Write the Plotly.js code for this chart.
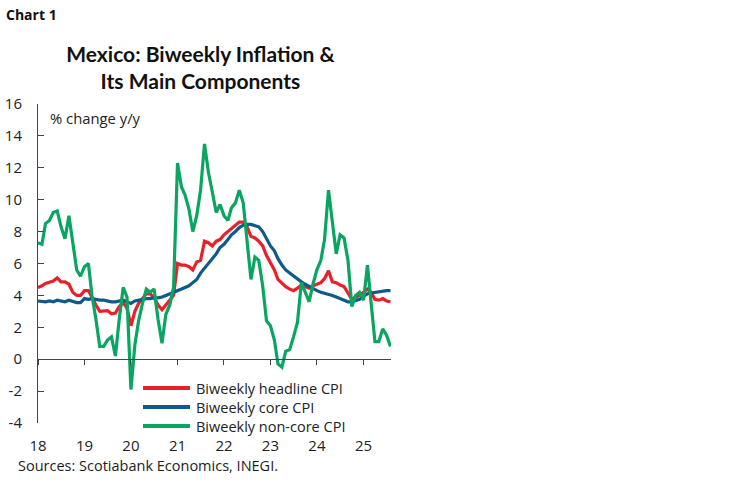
<!DOCTYPE html>
<html>
<head>
<meta charset="utf-8">
<script src="https://cdn.plot.ly/plotly-3.0.1.min.js"></script>
<style>html,body{margin:0;padding:0;background:#fff;}#chart{width:748px;height:483px;}</style>
</head>
<body>
<div id="chart"></div>
<script>
// Monthly readings (label-axis dates), Jan 2018 .. Aug 2025
const dates = [
"2018-01-01","2018-02-01","2018-03-01","2018-04-01","2018-05-01","2018-06-01","2018-07-01","2018-08-01","2018-09-01","2018-10-01","2018-11-01","2018-12-01",
"2019-01-01","2019-02-01","2019-03-01","2019-04-01","2019-05-01","2019-06-01","2019-07-01","2019-08-01","2019-09-01","2019-10-01","2019-11-01","2019-12-01",
"2020-01-01","2020-02-01","2020-03-01","2020-04-01","2020-05-01","2020-06-01","2020-07-01","2020-08-01","2020-09-01","2020-10-01","2020-11-01","2020-12-01",
"2021-01-01","2021-02-01","2021-03-01","2021-04-01","2021-05-01","2021-06-01","2021-07-01","2021-08-01","2021-09-01","2021-10-01","2021-11-01","2021-12-01",
"2022-01-01","2022-02-01","2022-03-01","2022-04-01","2022-05-01","2022-06-01","2022-07-01","2022-08-01","2022-09-01","2022-10-01","2022-11-01","2022-12-01",
"2023-01-01","2023-02-01","2023-03-01","2023-04-01","2023-05-01","2023-06-01","2023-07-01","2023-08-01","2023-09-01","2023-10-01","2023-11-01","2023-12-01",
"2024-01-01","2024-02-01","2024-03-01","2024-04-01","2024-05-01","2024-06-01","2024-07-01","2024-08-01","2024-09-01","2024-10-01","2024-11-01","2024-12-01",
"2025-01-01","2025-02-01","2025-03-01","2025-04-01","2025-05-01","2025-06-01","2025-07-01","2025-08-01"
];

const headline = [
4.5,4.6,4.75,4.85,4.9,5.1,4.85,4.85,4.7,4.2,4.0,4.0,
4.3,4.3,3.85,3.4,3.0,3.0,3.05,2.85,2.9,3.3,3.55,3.2,
2.1,3.0,3.5,3.8,4.1,4.1,3.85,3.4,3.1,3.4,3.7,4.0,
6.0,5.9,5.9,5.8,5.6,6.1,6.2,7.4,7.3,7.1,7.4,7.5,
7.8,8.0,8.15,8.35,8.6,8.6,8.3,7.7,7.6,7.4,7.1,6.5,
6.05,5.6,5.0,4.75,4.55,4.4,4.3,4.45,4.65,4.55,4.45,4.6,
4.7,4.8,5.05,5.55,4.85,4.8,4.65,4.55,4.15,3.75,3.9,4.0,
4.2,4.4,4.2,3.75,3.7,3.8,3.65,3.6
];

const core = [
3.65,3.6,3.6,3.65,3.6,3.7,3.65,3.6,3.7,3.6,3.55,3.55,
3.8,3.75,3.8,3.75,3.7,3.7,3.65,3.6,3.6,3.65,3.7,3.6,
3.5,3.65,3.7,3.75,3.8,3.8,3.85,3.85,3.9,4.0,4.1,4.2,
4.25,4.4,4.5,4.6,4.8,5.0,5.4,5.7,5.95,6.3,6.6,7.0,
7.2,7.5,7.8,8.0,8.25,8.4,8.45,8.45,8.35,8.3,8.0,7.6,
7.1,6.8,6.3,5.9,5.6,5.4,5.2,5.0,4.85,4.7,4.55,4.4,
4.3,4.2,4.15,4.1,4.0,3.9,3.8,3.65,3.6,3.6,3.7,3.75,
3.95,4.1,4.15,4.2,4.25,4.3,4.3,4.3
];

const noncore = [
7.3,7.2,8.5,8.7,9.2,9.3,8.3,7.55,9.0,7.3,5.6,5.2,
5.8,6.0,4.0,2.5,0.8,0.8,1.2,1.4,0.2,2.5,4.5,3.9,
-1.9,0.9,2.4,3.5,4.4,4.2,4.4,2.5,1.0,2.8,3.4,4.5,
12.3,10.8,10.3,9.4,8.0,9.0,10.6,13.5,11.7,10.5,9.2,9.7,
9.0,8.7,9.5,9.8,10.6,9.8,7.5,5.0,6.4,6.2,4.6,2.4,
2.1,1.2,-0.3,-0.5,0.5,0.6,1.4,2.3,4.8,4.2,3.6,4.7,
5.6,6.2,7.5,10.6,8.8,6.6,7.8,7.6,6.2,3.3,4.0,4.2,
3.7,5.9,3.6,1.1,1.1,1.9,1.5,0.8
];

const seriesNames = ["Biweekly headline CPI","Biweekly core CPI","Biweekly non-core CPI"];
const seriesColors = ["#e8202a","#0e5a8a","#0aa562"];
const yTicks = [-4,-2,0,2,4,6,8,10,12,14,16];
const yTickLabels = ["-4","-2","0","2","4","6","8","10","12","14","16"];

const baseFont = "Open Sans, Lato, sans-serif";
const allSeries = [headline, core, noncore];
const traces = allSeries.map((vals, i) => ({
  type: "scatter", mode: "lines", x: dates, y: vals, name: seriesNames[i],
  line: {color: seriesColors[i], width: 3.2}, hoverinfo: "skip", showlegend: false
}));
// empty trace so the overlaying zero-line axis (xaxis2) is drawn
traces.push({type: "scatter", x: [], y: [], xaxis: "x2", yaxis: "y", showlegend: false, hoverinfo: "skip"});

// plot-area geometry in pixels (for placing the legend box in paper units)
const PL = 38, PW = 353, PB = 423, PH = 319;
const px2x = p => (p - PL) / PW;
const px2y = p => (PB - p) / PH;

// legend key: drawn as line samples + labels
const legendRowsY = [388, 407, 426];
const legendShapes = seriesNames.map((n, i) => ({
  type: "line", xref: "paper", yref: "paper",
  x0: px2x(143), x1: px2x(190), y0: px2y(legendRowsY[i]), y1: px2y(legendRowsY[i]),
  line: {color: seriesColors[i], width: 4}
}));
const legendLabels = seriesNames.map((n, i) => ({
  text: n, xref: "paper", yref: "paper", x: px2x(194), y: px2y(legendRowsY[i]),
  xanchor: "left", yanchor: "middle", showarrow: false,
  font: {family: baseFont, size: 14.5, color: "#222"}
}));

const xRange = ["2018-01-01", "2025-08-05"];
const layout = {
  width: 748, height: 483,
  paper_bgcolor: "#fff", plot_bgcolor: "rgba(0,0,0,0)",
  margin: {l: 38, r: 357, t: 104, b: 60},
  font: {family: baseFont, size: 14, color: "#222"},
  title: {
    text: "<b>Mexico: Biweekly Inflation &<br>Its Main Components</b>",
    xref: "container", x: 0.268, xanchor: "center",
    yref: "container", y: 0.872, yanchor: "top",
    font: {family: "Lato, Open Sans, sans-serif", size: 21, color: "#111"}
  },
  showlegend: false,
  xaxis: {
    type: "date", range: xRange, showgrid: false, zeroline: false, showline: false,
    ticks: "", dtick: "M12", tick0: "2018-01-01", tickformat: "%y",
    tickfont: {family: baseFont, size: 15, color: "#222"},
    ticklabelstandoff: 12, fixedrange: true
  },
  xaxis2: {
    type: "date", range: xRange, overlaying: "x", anchor: "free", position: 0.2,
    side: "bottom", showgrid: false, zeroline: false, showline: true,
    linecolor: "#444", linewidth: 1, ticks: "outside", ticklen: 5, tickcolor: "#444",
    dtick: "M12", tick0: "2018-01-01", showticklabels: false
  },
  yaxis: {
    range: [-4, 16], tickvals: yTicks, ticktext: yTickLabels,
    showgrid: false, zeroline: false,
    showline: true, linecolor: "#444", linewidth: 1,
    ticks: "inside", ticklen: 6, tickcolor: "#444", ticklabelstandoff: 12,
    tickfont: {family: baseFont, size: 15, color: "#222"}, fixedrange: true
  },
  shapes: legendShapes,
  annotations: [
    {text: "<b>Chart 1</b>", xref: "paper", yref: "paper", x: px2x(0), y: px2y(14),
     xshift: 4, xanchor: "left", yanchor: "middle", showarrow: false,
     font: {family: baseFont, size: 14, color: "#111"}},
    {text: "% change y/y", xref: "paper", yref: "paper", x: px2x(48), y: px2y(118),
     xanchor: "left", yanchor: "middle", showarrow: false,
     font: {family: baseFont, size: 14.8, color: "#222"}},
    {text: "Sources: Scotiabank Economics, INEGI.", xref: "paper", yref: "paper",
     x: px2x(16), y: px2y(465), xanchor: "left", yanchor: "middle", showarrow: false,
     font: {family: baseFont, size: 14.5, color: "#222"}}
  ].concat(legendLabels)
};

Plotly.newPlot("chart", traces, layout, {staticPlot: true, displayModeBar: false});
</script>
</body>
</html>
